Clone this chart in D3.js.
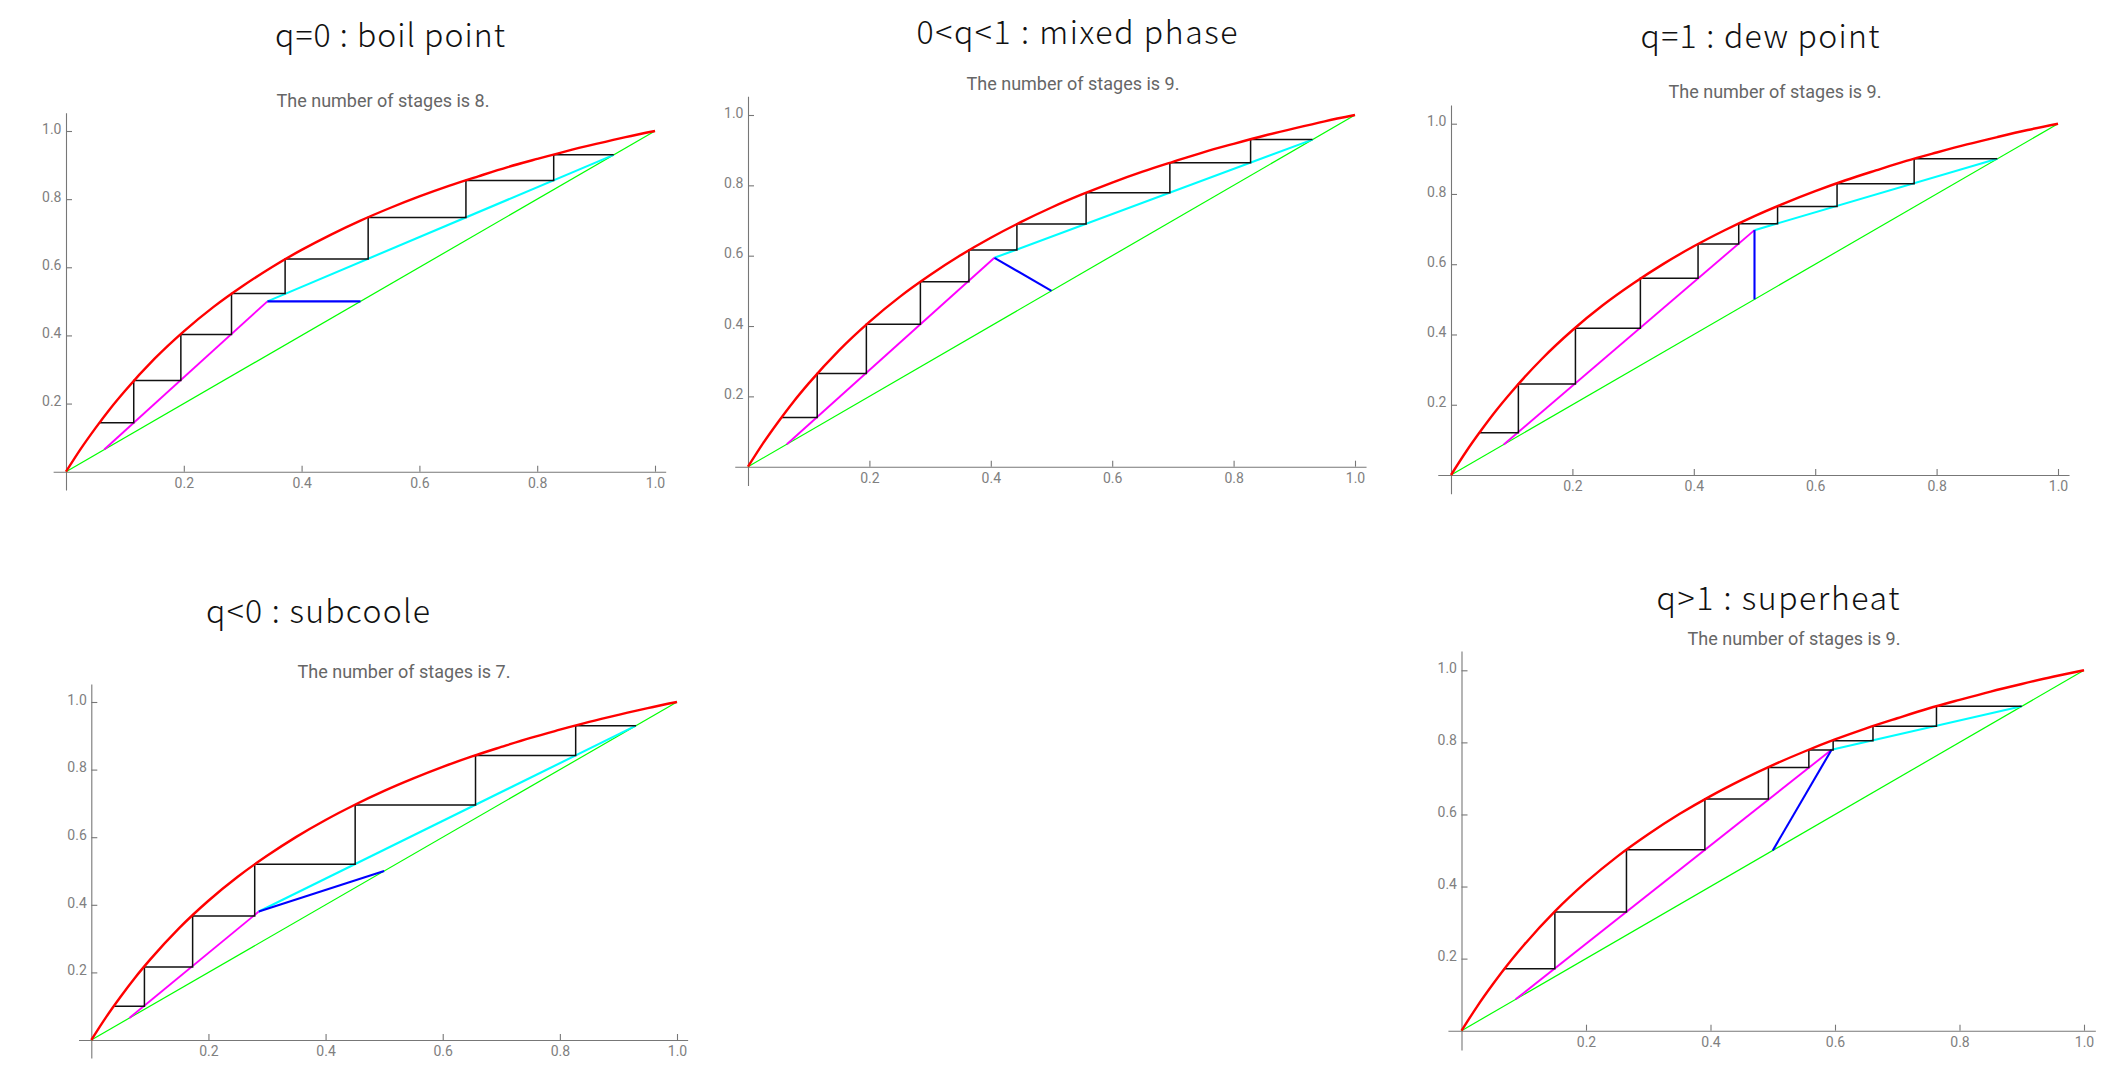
<!DOCTYPE html>
<html><head><meta charset="utf-8">
<script src="https://cdn.jsdelivr.net/npm/d3@7"></script>
<style>body{margin:0;background:#fff}</style>
</head><body>
<svg id="c" width="2124" height="1083"></svg>
<script>
// ---------- data ----------
const titles = ["q=0 : boil point", "0<q<1 : mixed phase", "q=1 : dew point", "q<0 : subcoole", "q>1 : superheat"];
const stageLabels = ["The number of stages is 8.", "The number of stages is 9.", "The number of stages is 9.", "The number of stages is 7.", "The number of stages is 9."];

// equilibrium curve (red), shared by all panels
const eqX = [0, 0.025, 0.05, 0.075, 0.1, 0.15, 0.2, 0.25, 0.3, 0.35, 0.4, 0.45, 0.5, 0.55, 0.6, 0.65, 0.7, 0.75, 0.8, 0.85, 0.9, 0.95, 1];
const eqY = [0, 0.067, 0.128, 0.185, 0.237, 0.331, 0.412, 0.483, 0.545, 0.601, 0.651, 0.696, 0.737, 0.774, 0.808, 0.839, 0.867, 0.894, 0.918, 0.941, 0.962, 0.982, 1];

// distillate / bottoms compositions
const xD = [0.93, 0.93, 0.90, 0.93, 0.90];
const xW = [0.065, 0.064, 0.087, 0.065, 0.087];
// feed point on the diagonal
const feedX = [0.5, 0.5, 0.5, 0.5, 0.5];
const feedY = [0.5, 0.5, 0.5, 0.5, 0.5];
// intersection of the operating lines (end of q-line)
const interX = [0.342, 0.406, 0.5, 0.286, 0.5945];
const interY = [0.5, 0.594, 0.697, 0.380, 0.7796];

// stair corners on the equilibrium curve
const stairX = [
  [0.828, 0.679, 0.513, 0.372, 0.281, 0.195, 0.115, 0.056],
  [0.828, 0.695, 0.557, 0.443, 0.364, 0.284, 0.195, 0.114, 0.0545],
  [0.763, 0.636, 0.538, 0.474, 0.407, 0.312, 0.205, 0.111, 0.0456],
  [0.827, 0.656, 0.4505, 0.279, 0.173, 0.0907, 0.038],
  [0.763, 0.661, 0.597, 0.558, 0.493, 0.391, 0.265, 0.150, 0.068]
];
const stairY = [
  [0.93, 0.855, 0.746, 0.624, 0.523, 0.403, 0.268, 0.144],
  [0.93, 0.8645, 0.779, 0.690, 0.616, 0.526, 0.405, 0.265, 0.140],
  [0.90, 0.829, 0.764, 0.715, 0.6575, 0.560, 0.4175, 0.259, 0.1205],
  [0.93, 0.842, 0.695, 0.5197, 0.367, 0.216, 0.0996],
  [0.90, 0.845, 0.8046, 0.7787, 0.7306, 0.6426, 0.5019, 0.3296, 0.1722]
];

const minorTicks = [-0.05, 0, 0.05, 0.1, 0.15, 0.2, 0.25, 0.3, 0.35, 0.4, 0.45, 0.5, 0.55, 0.6, 0.65, 0.7, 0.75, 0.8, 0.85, 0.9, 0.95, 1, 1.05];
const majorTicks = [0.2, 0.4, 0.6, 0.8, 1.0];

// ---------- layout ----------
const layout = [
  {x0: 66,     x1: 655,  y0: 471.7, y1: 131,   tx: 390,  ty: 47,  tw: 230, sx: 383,  sy: 107},
  {x0: 748,    x1: 1355, y0: 466.7, y1: 115,   tx: 1077, ty: 44,  tw: 321, sx: 1073, sy: 90},
  {x0: 1451,   x1: 2058, y0: 475,   y1: 123.7, tx: 1760, ty: 48,  tw: 239, sx: 1775, sy: 98},
  {x0: 91.3,   x1: 677,  y0: 1040,  y1: 702,   tx: 318,  ty: 623, tw: 224, sx: 404,  sy: 678},
  {x0: 1461.5, x1: 2084, y0: 1030.7,y1: 670.3, tx: 1778, ty: 610, tw: 243, sx: 1794, sy: 645}
];

const svg = d3.select("#c");
svg.append("rect").attr("width", 2124).attr("height", 1083).attr("fill", "#fff");

const axisColor = "#777";
const labelColor = "#808080";

layout.forEach((L, p) => {
  const xs = d3.scaleLinear().domain([0, 1]).range([L.x0, L.x1]);
  const ys = d3.scaleLinear().domain([0, 1]).range([L.y0, L.y1]);
  const g = svg.append("g");

  // titles
  g.append("text").attr("x", L.tx).attr("y", L.ty).attr("text-anchor", "middle")
    .attr("font-family", "'Noto Sans CJK JP', 'Noto Sans', sans-serif").attr("font-size", 32)
    .attr("font-weight", 300).attr("textLength", L.tw).attr("lengthAdjust", "spacing")
    .attr("fill", "#111").text(titles[p]);
  g.append("text").attr("x", L.sx).attr("y", L.sy).attr("text-anchor", "middle")
    .attr("font-family", "Roboto, sans-serif").attr("font-size", 18)
    .attr("fill", "#666").text(stageLabels[p]);

  // axes
  const xMinor = minorTicks.filter(v => v >= 0 && v <= 1);
  const gx = g.append("g").attr("transform", `translate(0,${L.y0})`);
  gx.call(d3.axisBottom(xs).tickValues(xMinor).tickSize(-3.5).tickFormat(""));
  gx.call(d3.axisBottom(xs).tickValues(majorTicks).tickSize(-6).tickPadding(6).tickFormat(d3.format(".1f")));
  gx.selectAll(".domain").remove();
  gx.append("line").attr("x1", xs(-0.021)).attr("x2", xs(1.019)).attr("y1", 0.5).attr("y2", 0.5);

  const gy = g.append("g").attr("transform", `translate(${L.x0},0)`);
  gy.call(d3.axisLeft(ys).tickValues(minorTicks).tickSize(-3.5).tickFormat(""));
  gy.call(d3.axisLeft(ys).tickValues(majorTicks).tickSize(-6).tickPadding(4.5).tickFormat(d3.format(".1f")));
  gy.selectAll(".domain").remove();
  gy.append("line").attr("y1", ys(-0.055)).attr("y2", ys(1.052)).attr("x1", 0.5).attr("x2", 0.5);
  gy.selectAll("text").attr("dy", "0.16em");

  [gx, gy].forEach(a => {
    a.selectAll("line").attr("stroke", axisColor).attr("stroke-width", 1.1);
    a.selectAll("text").attr("fill", labelColor).attr("font-family", "Roboto, sans-serif").attr("font-size", 14);
  });

  const line = d3.line().x(d => xs(d[0])).y(d => ys(d[1]));

  // diagonal
  g.append("path").attr("d", line([[0, 0], [1, 1]])).attr("stroke", "#00ff00").attr("stroke-width", 1.2).attr("fill", "none");
  // rectifying operating line
  g.append("path").attr("d", line([[xD[p], xD[p]], [interX[p], interY[p]]])).attr("stroke", "#00ffff").attr("stroke-width", 2.1).attr("fill", "none");
  // stripping operating line
  g.append("path").attr("d", line([[xW[p], xW[p]], [interX[p], interY[p]]])).attr("stroke", "#ff00ff").attr("stroke-width", 1.9).attr("fill", "none");
  // q-line
  g.append("path").attr("d", line([[feedX[p], feedY[p]], [interX[p], interY[p]]])).attr("stroke", "#0000ff").attr("stroke-width", 2.1).attr("fill", "none");

  // stairs
  const sx = stairX[p], sy = stairY[p];
  const pts = [[xD[p], sy[0]]];
  sx.forEach((x, i) => {
    pts.push([x, sy[i]]);
    if (i + 1 < sx.length) pts.push([x, sy[i + 1]]);
  });
  g.append("path").attr("d", line(pts)).attr("stroke", "#111").attr("stroke-width", 1.5).attr("fill", "none");

  // equilibrium curve
  const eqLine = d3.line().x(d => xs(d[0])).y(d => ys(d[1])).curve(d3.curveMonotoneX);
  g.append("path").attr("d", eqLine(eqX.map((x, i) => [x, eqY[i]]))).attr("stroke", "#ff0000").attr("stroke-width", 2.4).attr("fill", "none");
});
</script>
</body></html>
